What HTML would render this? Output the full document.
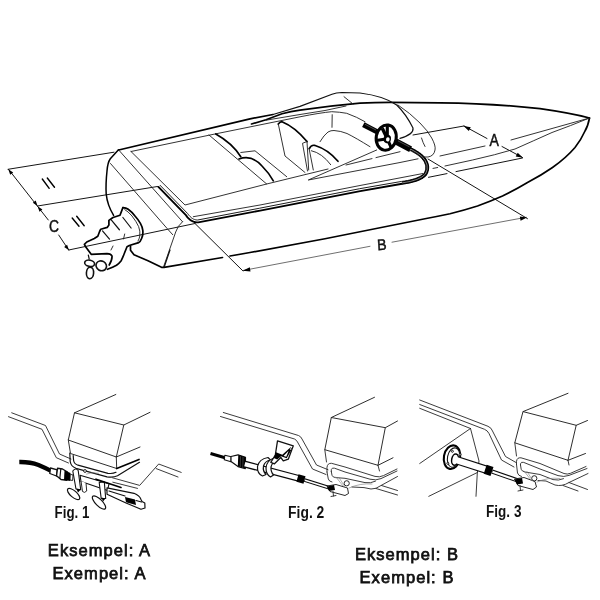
<!DOCTYPE html>
<html>
<head>
<meta charset="utf-8">
<title>Steering cable measurement</title>
<style>
html,body{margin:0;padding:0;background:#fff;}
body{width:600px;height:600px;overflow:hidden;position:relative;font-family:"Liberation Sans",sans-serif;}
svg{position:absolute;left:0;top:0;display:block;}
.t{fill:none;stroke:#1c1c1c;stroke-width:.9;stroke-linecap:round;stroke-linejoin:round;}
.b{fill:none;stroke:#222;stroke-width:.95;stroke-linecap:round;stroke-linejoin:round;}
.n{fill:none;stroke:#262626;stroke-width:.9;stroke-linecap:round;stroke-linejoin:round;}
.g{fill:none;stroke:#777;stroke-width:.6;stroke-linecap:round;stroke-linejoin:round;}
.m{fill:none;stroke:#111;stroke-width:1.2;stroke-linecap:round;stroke-linejoin:round;}
.k{fill:none;stroke:#000;stroke-width:1.7;stroke-linecap:round;stroke-linejoin:round;}
.f{fill:#000;stroke:none;}
.w{fill:#fff;stroke:#111;stroke-width:.9;stroke-linejoin:round;}
.lbl{font-family:"Liberation Sans",sans-serif;font-size:15.3px;fill:#111;stroke:#111;stroke-width:.45;}
.fig{font-family:"Liberation Sans",sans-serif;font-weight:bold;font-size:16px;fill:#111;}
.cap{will-change:transform;opacity:.999;position:absolute;text-align:center;font-size:16.5px;line-height:22.5px;color:#111;white-space:nowrap;letter-spacing:1.05px;-webkit-text-stroke:.75px #111;}
</style>
</head>
<body>
<svg width="600" height="600" viewBox="0 0 600 600" style="will-change:transform;opacity:.999">
<!-- ===================== MAIN BOAT ===================== -->
<g id="dims" class="t" style="stroke-width:1;stroke:#151515">
<path d="M8,169.3L114,152.2"/>
<path d="M8.5,169.3L48.3,220M58.7,235L68.7,250"/>
<path d="M37.5,206L157.5,186.5"/>
<path d="M68.7,250L195,223.5"/>
<path d="M195,223.5L243,271"/>
<path d="M243,270.5L370,246.3" style="stroke:#555;stroke-width:.85"/>
<path d="M392,242.2L526,217.3" style="stroke:#555;stroke-width:.85"/>
<path d="M428,159L527.5,218.7"/>
<path d="M413,135L464,126"/>
<path d="M464,126L487,138.5"/>
<path d="M502,146.5L522.5,157.5"/>
<path d="M522.5,158L456,171.6M447,173.6L428.5,177.3"/>
</g>
<g id="boat">
<!-- port gunwale + bow top -->
<path class="k" d="M118.7,150L250,118.8L273,114.5"/>
<path class="k" d="M251.5,124L266,119.8L282,113.8Q291,111.5 300,110.2Q330,105.8 360,103.2Q375,102.3 390,102.3L440,102.8Q495,103.5 540,108.7Q570,113 589.5,118"/>
<path class="t" d="M266,120.2L300,114.5L325,110.5L346,106"/>
<!-- bow lower / chine -->
<path class="k" d="M589.5,118Q588,126 585,131Q581,140 575,147.5Q566,158 552.5,167.5Q541,175.5 527.5,182.5Q515,190 502.5,196Q490,201.5 477.5,206Q465,210 450,213.75Q437,216.5 425,218.75L400,223.75L325,238.75L250,252.5L230,256"/>
<path class="k" d="M222.5,257.5L164,267.3L161.5,267.3L148,260.7L134,254.8L130.5,250.2L130.5,246.1"/>
<!-- stern corner -->
<path class="k" style="stroke-width:1.5" d="M118.5,149.7L110.3,158.7Q107.6,162.5 107,171Q105.6,184 106.2,194Q107.3,205 113.6,215.4"/>
<path class="t" d="M118.7,150L182.5,221.7"/>
<path class="t" d="M182.5,221.7Q177.5,226 175.7,232L163.5,267"/>
<!-- hatch -->
<path class="t" d="M131,151.5L210,135L300,116.8Q320,112.8 331.7,111.7Q340,112 346.7,113.3Q357,117 365,121.7"/>
<path class="t" d="M131,151.5L185,205L266.7,184L328,169"/>
<path class="t" d="M209,135L266.7,184"/>

<!-- starboard gunwale thin line + cable -->
<path class="t" d="M193.3,216.7L260,205L360,185.5L423,173.5"/>
<path d="M159,186.3L186.5,214.5Q191.5,221.8 198,221.5L260,209.7L360,190.2L402,182.9Q420,180.5 425.5,174Q430.5,165 421.7,156.2Q417,152.3 411,149.3" fill="none" stroke="#fff" stroke-width="3.4" stroke-linejoin="round"/>
<path id="cab1" class="k" style="stroke-width:1.9" d="M158.4,186.9L185.9,215.1L186.6,216.2L187.5,217.3L188.5,218.3L189.4,219.2L190.4,220.0L191.4,220.7L192.4,221.2L193.5,221.7L194.6,222.0L195.7,222.3L196.9,222.4L198.2,222.4L260.2,210.6L360.2,191.1L402.2,183.8L405.1,183.4L407.8,182.9L410.4,182.3L412.8,181.7L415.1,181.0L417.2,180.3L419.1,179.5L420.9,178.7L422.5,177.8L423.9,176.8L425.1,175.7L426.2,174.5L427.1,172.9L427.6,171.3L428.0,169.7L428.2,168.1L428.2,166.5L427.9,164.9L427.5,163.3L426.8,161.7L426.0,160.1L425.0,158.6L423.8,157.1L422.3,155.6L421.5,154.9L420.6,154.2L419.8,153.6L418.9,153.0L418.1,152.4L417.2,151.8L416.2,151.2L415.3,150.6L414.4,150.1L413.4,149.5L412.4,149.0L411.4,148.5"/>
<path id="cab2" class="t" style="stroke-width:1" d="M160.1,185.3L187.6,213.5L188.5,214.7L189.3,215.7L190.2,216.6L191.0,217.4L191.8,218.1L192.7,218.6L193.5,219.1L194.4,219.4L195.2,219.7L196.1,219.9L197.0,220.0L197.7,220.0L259.7,208.2L359.7,188.7L401.7,181.4L404.7,181.0L407.4,180.5L409.9,180.0L412.2,179.4L414.4,178.8L416.3,178.1L418.1,177.3L419.7,176.6L421.2,175.7L422.4,174.9L423.5,174.0L424.3,173.2L424.9,171.9L425.3,170.6L425.7,169.3L425.8,168.0L425.8,166.7L425.6,165.4L425.2,164.1L424.7,162.7L424.0,161.4L423.0,160.0L421.9,158.7L420.7,157.3L420.0,156.7L419.2,156.1L418.4,155.5L417.6,154.9L416.7,154.4L415.9,153.8L415.0,153.2L414.1,152.7L413.2,152.2L412.2,151.6L411.3,151.1L410.3,150.6"/>
<path d="M402,182.9Q420,180.5 425.5,174Q430.5,165 421.7,156.2Q417,152.3 411,149.3" fill="none" stroke="#000" stroke-width="2.9"/>
<path d="M402,182.9Q420,180.5 425.5,174Q430.5,165 421.7,156.2Q417,152.3 411,149.3" fill="none" stroke="#fff" stroke-width=".5"/>
<!-- windshield -->
<path class="m" d="M273,114.5L300,106.4L332,94.3Q336,92.7 342,92.5L360,93Q384,96 396.7,105Q406,114 413,128Q414,134.5 400,138.3"/>
<path class="t" d="M344,96.7L353,104"/>
<path class="t" d="M398,105Q410,113 420,123Q428,131 431.7,138Q436,146 435,150Q434,156 428,157L423,157"/>
<path class="t" d="M421.5,138Q423,143 425,146.5"/>
<!-- stbd wedge -->
<path class="t" d="M376.7,150L308.3,180L400,162.5L418,158.8"/>
<path class="t" d="M346,165L372,158.6M376,157.6L400,151.7"/>
<!-- bow deck lines -->
<path class="t" d="M589.5,118L511,140"/>
<path class="t" d="M485,146L440,156"/>
<path class="t" d="M589.5,118Q570,126 552,132.5Q533,141 515,149Q495,155 472.5,160L445,166"/>
<path class="t" d="M433,168.4L437.7,167.5"/>
<!-- seats -->
<path class="k" d="M215.8,134Q232,143 240.8,156.7"/>
<path class="t" d="M240.8,152.5L255,150.8L286.7,176.7"/>
<path class="k" d="M239,159Q252,154.5 262,166Q269,173 273.3,180.8"/>
<path class="k" d="M278.3,124Q280,121.8 282,121.7Q295,127 307,141.5"/>
<path class="t" d="M278.3,124L285,156L305,172.5"/>
<path class="t" d="M307,141.5L308.7,170M307,141.5L302.5,143.3L307.5,171"/>
<path class="k" d="M309.3,148.7Q311,144.8 314.5,145.3Q328,149.5 338,161.3"/>
<path class="t" d="M311.3,150.7Q322,153 330.7,164.7"/>
<path class="t" d="M309,148.3L313.3,170"/>
<path class="t" d="M332.2,114.7L332,127.3"/>
<path class="t" d="M320,141.7Q324,135 328,132Q331,130.3 334,130.5Q341,131 347,133.5Q356,138 370,146.7"/>
<!-- steering wheel -->
<path d="M363.3,124.6L377.5,132" stroke="#000" stroke-width="5.2" fill="none"/>
<path d="M365,124.3L376,130" stroke="#aaa" stroke-width=".45" fill="none"/>
<path d="M395.5,141.3L410.6,149.2" stroke="#000" stroke-width="6.2" fill="none"/>
<path d="M398,140.9L409.5,146.9" stroke="#aaa" stroke-width=".45" fill="none"/>
<g transform="translate(386.2,137.6) rotate(10)">
<ellipse cx="0" cy="0" rx="10" ry="12.7" fill="#fff" stroke="#000" stroke-width="3"/>
<path d="M1.3,1L-1,-12M1.3,1L-9.3,4.5M1.3,1L7,9.5" stroke="#000" stroke-width="3.1" fill="none"/>
<path d="M1.3,1L-5.5,-8.5" stroke="#000" stroke-width="3.4" fill="none"/>
<ellipse cx="1.3" cy="1.2" rx="3.7" ry="4.3" fill="#000"/>
<ellipse cx="1.9" cy="1.5" rx="1.8" ry="2.2" fill="#fff"/>
</g>
<!-- outdrive -->
<path class="k" d="M122.9,207.6Q126,207.8 128.2,209.3Q132,212 135.2,216.3Q138.5,220 140.4,223.3Q142.5,227 142.8,230.3Q143.3,235 141.6,238.5Q140.5,241.5 138.7,242.6L129.3,245.5L127,246.7L124.7,252.5Q123,257 121.2,260.7Q119,263.5 116.5,265.3Q113,267.3 107.5,269.3"/>
<path class="t" d="M124.8,209.6Q128,211.3 132,216Q136.3,221.5 138.6,226.5Q140.4,231 139.8,236Q139.3,239 138,241"/>
<path class="k" d="M122.9,207.6L120,215.2L113,217.5L108.9,220.4L108.9,225.1L107.2,227.4L100.75,229.2L99.6,231.5L97.8,236.2L94.3,238.5L86.75,242L84.4,244.3L85.6,246.7L91.2,254.3L107,253.6Q111,253.8 112,256Q112.3,259.5 109.2,265"/>
<path class="m" d="M111.25,219.8L119.4,229.75M102.5,230.9L109.5,239.1M122.9,217.5L131.1,228"/>
<path class="t" d="M124.7,234L123.5,239M113,246L111,250"/>
<path class="m" d="M88.3,255L89.2,259"/>
<ellipse cx="101.25" cy="265.8" rx="5.4" ry="4.8" class="w" style="stroke-width:1.6" transform="rotate(30 101.25 265.8)"/>
<ellipse cx="89.6" cy="263.3" rx="5" ry="3.1" class="w" style="stroke-width:1.6" transform="rotate(12 89.6 263.3)"/>
<ellipse cx="90" cy="272.9" rx="3.6" ry="5.8" class="w" style="stroke-width:1.6" transform="rotate(3 90 272.9)"/>
<path class="m" d="M170,250L164.3,266.7"/>
<!-- transom faint lines -->
<path class="t" d="M110.5,163.5L167.3,228.7L172.7,234.7"/>
</g>
<!-- arrows -->
<g class="f">
<path d="M8.3,169.2L10.2,174.7L13.2,172.4Z"/>
<path d="M69,250.3L64.1,247.1L67.1,244.8Z"/>
<path d="M37.6,206L32.8,202.8L35.7,200.5Z M37.6,206.2L39.5,211.7L42.4,209.4Z"/>
<path d="M242.6,270.7L249.8,267.2L250.5,271.4Z"/>
<path d="M527,217.4L519.8,216.5L520.6,220.7Z"/>
<path d="M463.6,126L470.8,127.2L468.8,131Z"/>
<path d="M522.9,157.8L515.7,156.6L517.7,152.8Z"/>
</g>
<!-- tick marks II -->
<g class="k" style="stroke-width:1.4">
<path d="M42.3,179L49.2,188.3M47.3,178L54.5,187.2"/>
<path d="M72.2,218L79,226.3M76.7,216.3L84.2,225.7"/>
</g>
<text class="lbl" style="font-size:16.3px" x="49" y="231.9" textLength="10" lengthAdjust="spacingAndGlyphs">C</text>
<text class="lbl" style="font-size:15.4px" x="377.2" y="249.9" textLength="9.4" lengthAdjust="spacingAndGlyphs" transform="rotate(-4 382 244)">B</text>
<text class="lbl" style="font-size:15.6px" x="489.5" y="146.3" textLength="9.4" lengthAdjust="spacingAndGlyphs">A</text>

<!-- ===================== FIG 1 ===================== -->
<g id="fig1">
<path class="n" d="M11.7,412.8L45.5,425.5L59.5,454L71,459"/>
<path class="n" d="M8.5,416.7L42,429.3L56.3,457.7L68.5,463"/>
<!-- motor box -->
<path class="b" d="M115.8,394.5L74.5,412.8L123.8,425L150,412.3"/>
<path class="b" d="M74.5,412.8L68.3,440L116.3,457L123.8,425"/>
<path class="b" d="M116.3,457L140,447"/>
<path class="b" d="M68.3,440L70.5,453.5L116.7,468.5L116.3,457"/>
<path class="k" d="M116.7,468.5L139,459.5"/>
<!-- tilt tube -->
<path class="m" d="M69.8,453L70.2,461.5Q71,466.5 76,468.3L107,476.8Q113,478 117.5,475.8L139.5,462.3"/>
<path class="m" d="M73.2,455.5L73.6,460.5Q74.2,464 78,465.2L108,473.3Q112.5,474 116,472.3"/>
<!-- right transom -->
<path class="n" d="M112.5,477.8L139.7,485.4L158.7,464L181.2,472.4"/>
<path class="n" d="M112.8,482.2L137.5,488.4M156.2,468.6L178,477"/>
<!-- cable -->
<path d="M19.3,462Q30,461.8 38.5,465Q45,467.8 51,470.8" fill="none" stroke="#000" stroke-width="4.3"/>
<path class="w" style="stroke-width:1.3" d="M50.5,468L57.3,469.8L56.5,476L49.8,473.5Z"/>
<path class="w" style="stroke-width:1.4" d="M57.5,468.3L62.5,469L67.5,472L66.8,480.3L61,479.5L56.5,475.8Z"/>
<path class="m" d="M60.8,469L59.8,478.5"/>
<path class="f" d="M64.5,470.5L70.5,473L70.2,481L64,480Z"/>
<path class="w" d="M70.3,474.3L73,475L72.6,480.5L70,480Z"/>
<!-- steering tube -->
<path class="w" style="stroke-width:1.1" d="M80,475.2L109,483.8L107.5,490.5L81,481.5Z"/>
<path class="w" d="M81,481L82.5,491.5Q84.5,493.5 86.7,491L86,483"/>
<!-- clamp brackets -->
<path class="w" style="stroke-width:1.1" d="M72.8,471Q75.5,467.2 78.2,470.5L80.7,489.7L76,489Z"/>
<path class="w" style="stroke-width:1.1" d="M99.2,482.5L104.3,482L105.7,498.5L101.2,498.5Z"/>
<ellipse cx="73.6" cy="494" rx="7.7" ry="3.2" class="w" style="stroke-width:1.2" transform="rotate(41 73.6 494)"/>
<ellipse cx="99" cy="502.5" rx="8.8" ry="3.3" class="w" style="stroke-width:1.2" transform="rotate(45 99 502.5)"/>
<path class="f" d="M76.3,488.5L80.5,489.7L78,492.5ZM101.5,497.5L105.5,498.5L103,501.5Z"/>
<!-- link arm -->
<path class="w" style="stroke-width:1.2" d="M107,487.8L134,493.3Q139.5,495.5 141,499.5L142,501.5L144.8,503L145,508L141,509.3L126,503L107,494.3Z"/>
<path class="f" d="M125,497L135,499.5L136,505L126,502.3Z"/>
<path class="m" d="M109,491L125,496M136,500.5L141.5,502"/>
<path class="k" d="M96,479.2L121,487.5"/>
<circle cx="85" cy="471" r="1.4" class="w"/>
<path class="g" d="M86.5,474Q92,471.5 98.5,473.3"/>
<text class="fig" x="54.6" y="517.8" textLength="34.8" lengthAdjust="spacingAndGlyphs">Fig. 1</text>
</g>
<!-- ===================== FIG 2 ===================== -->
<g id="fig2">
<path class="n" d="M223.3,412.5L298.5,435.5Q301,436.5 302,439L316.5,465L328,469.7"/>
<path class="n" d="M220.5,416.5L294.5,439Q296.5,440 297.5,442L312.5,469L326,474.5"/>
<!-- motor -->
<path class="b" d="M374.5,397.3L331.3,417.5L385.3,427.7L397.5,421"/>
<path class="b" d="M331.3,417.5L324.8,449.7L378,465.3L385.3,427.7"/>
<path class="b" d="M378,465.3L393,457.8"/>
<path class="n" d="M324.8,449.7L326.5,462M378,465.3L379.5,471"/>
<!-- tilt tube -->
<path class="n" d="M327,472L327,467.3Q327.5,463 331.5,463.3L345,467L375,476.4Q379.5,477.6 383.5,475.6L397,469"/>
<path class="n" d="M331.3,471.5L331.3,469.6Q332,467.4 334.5,468.2L345,472L370,479.2Q376,480.8 381,478.6L397,471"/>
<path class="n" d="M331.3,471.5L332,475.3Q332.8,477.3 335.5,477.6L345,478.3L365,482.6Q370.5,483.6 375.5,481.2"/>
<path class="n" d="M327,472L328.3,479Q329,481.5 332,482M352,487L364,487.6L371,489Q376,489.3 381,485.5L397.5,476.5"/>
<path class="n" d="M376,488.5L397.5,495M381.5,485.5L397.5,490.5"/>
<!-- cable -->
<path d="M210.5,453.5L225,457.7" fill="none" stroke="#000" stroke-width="3.1"/>
<path class="w" style="stroke-width:1.1" d="M224.8,455.3L231.3,456.8L231,461.8L224.3,459.8Z"/>
<path class="w" style="stroke-width:1.2" d="M231,456.5L238,454.8L245.5,457.3L245.3,468.6L238,466.6L231,461.6Z"/>
<path class="f" d="M238.3,454.8L245.5,457.3L245.3,468.6L237.8,466.6Z"/>
<path d="M240.5,456.3L240.2,467M243,457L242.8,467.6" stroke="#777" stroke-width=".5" fill="none"/>
<path d="M244,463.9L299,478.5" fill="none" stroke="#0a0a0a" stroke-width="6.9"/>
<path d="M244.8,464.1L298,478.2" fill="none" stroke="#fff" stroke-width="4.3"/>
<path d="M297.5,478.1L304.5,480" fill="none" stroke="#000" stroke-width="7.8"/>
<path d="M304.5,480L330,488" fill="none" stroke="#0a0a0a" stroke-width="3.8"/>
<path d="M305,480.2L329,487.7" fill="none" stroke="#fff" stroke-width="1.6"/>
<!-- clamp -->
<path class="w" style="stroke-width:1.2" d="M268,457.5Q259,459 257.5,466.5Q257,473.5 262.5,476L266,474.5Q262.5,471 263.5,466Q265,461 270.5,460Z"/>
<path class="w" d="M274,458Q266.5,460.5 266,468Q266,474.5 270.5,477L273.5,475Q270.5,471.5 271,467Q272,462.5 276.5,460.5Z" style="stroke-width:1.2"/>
<!-- bracket -->
<path class="w" style="stroke-width:1.3" d="M277.5,440.8L293.3,445.8L291.7,450L288.3,459.2L283.3,460.8L280.8,457.5L274.5,463.8L270.8,462.3L275.3,455Z"/>
<path d="M276,452.3L282.3,454.8L290.6,447.3L292,448.8L286.7,458.3L281,456.3L277.2,459.5L273.8,458Z" fill="#000"/>
<path d="M283.5,456L288.6,450.8L286.3,456.8Z" fill="#fff"/>
<circle cx="290.6" cy="449" r=".8" fill="#fff"/>
<!-- end fitting -->
<path class="w" d="M327,486L336,484.5L347.5,488L348.5,493.5L345,495.5L330,491.5Z"/>
<path class="f" d="M327,486.5L334,485L335,490L329,491Z"/>
<circle cx="346.7" cy="483.3" r="2.6" class="w"/>
<path class="n" d="M333,491.5L333.5,496M331,496.5L336,495.5"/>
<path class="g" d="M336,477L343,486M339,477.5L345,487M349,488Q360,483 372,484"/>
<text class="fig" x="288.1" y="517.8" textLength="36.2" lengthAdjust="spacingAndGlyphs">Fig. 2</text>
</g>
<!-- ===================== FIG 3 ===================== -->
<g id="fig3">
<path class="n" d="M419.7,400L488,426.3Q491.5,427.8 492.5,431L505.5,456.5L516,462.5"/>
<path class="n" d="M419.7,404.5L484.5,429.3Q487.5,430.5 489,433.5L501.5,460L514,467"/>
<path class="n" d="M419.7,408.3L470.5,428.5"/>
<path class="n" d="M470.5,428.5L419.7,463.5"/>
<path class="n" d="M470.5,428.5L479,461L477.3,473L476,496.3"/>
<path class="n" d="M477.4,472.5L428.8,496.3"/>
<!-- motor -->
<path class="b" d="M568,393.3L523,411.6L576.2,425.3L587.5,420.5"/>
<path class="b" d="M523,411.6L514.8,442.8L568,460.3L576.2,425.3"/>
<path class="b" d="M568,460.3L585.5,453.5"/>
<path class="n" d="M514.8,442.8L516.5,456M568,460.3L569,465"/>
<!-- tilt tube -->
<path class="n" d="M516.5,464.5L516.5,461.3Q517,457.3 521,457.8L540,463.5L564,473.5Q567.3,474.7 570.5,473.3L586,466.5"/>
<path class="n" d="M520.5,465L520.5,463.8Q521,461.6 523.7,462.4L540,469L558,475.6Q564,477.4 569,475.4L587,468.5"/>
<path class="n" d="M520.5,465L521.2,469.3Q522,471.5 525,472L540,474.5L553,479.6Q558.5,481 563.5,478.7"/>
<path class="n" d="M516.5,464.5L517.5,473Q518.3,475.8 521.5,476.5M538,480.5L546,481L555,485Q562,486.8 569,482.5L588,473.5"/>
<path class="n" d="M563,485.5L578,491M569,482.5L587.5,489.5"/>
<!-- flange -->
<ellipse cx="452" cy="457.2" rx="8.1" ry="11.9" fill="#fff" stroke="#000" stroke-width="2.1" transform="rotate(11 452 457.2)"/>
<ellipse cx="453.6" cy="457.6" rx="6.1" ry="9.8" fill="#fff" stroke="#111" stroke-width="1.1" transform="rotate(11 453.6 457.6)"/>
<circle cx="452.4" cy="451.3" r="1" class="w"/><circle cx="447.8" cy="463.3" r="1" class="w"/><circle cx="460" cy="454.5" r="1" class="w"/>
<ellipse cx="455" cy="459.6" rx="3.3" ry="5.7" fill="#fff" stroke="#000" stroke-width="1.5" transform="rotate(11 455 459.6)"/>
<!-- tube -->
<path d="M457.7,460.5L486.5,469.7" fill="none" stroke="#0a0a0a" stroke-width="8.5"/>
<path d="M456,460L486,469.6" fill="none" stroke="#fff" stroke-width="6.1"/>
<path d="M485.2,469.3L492,471.5" fill="none" stroke="#000" stroke-width="9.6"/>
<path d="M492,471.5L518,480.5" fill="none" stroke="#0a0a0a" stroke-width="4.2"/>
<path d="M492.5,471.7L517,480.2" fill="none" stroke="#fff" stroke-width="2.1"/>
<!-- end fitting -->
<path class="w" d="M514.5,479L524,477.5L535,481.5L536.5,487L533,489.5L518,485.5Z"/>
<path class="f" d="M514.5,479.5L522,478L523,483.5L517,484.5Z"/>
<circle cx="534.3" cy="478.3" r="2.6" class="w"/>
<path class="n" d="M520,485.5L520.5,490.5M518,491L523,490"/>
<path class="g" d="M524,471L531,480M527,471.5L533,481M537,482Q548,477 560,478.5"/>
<text class="fig" x="486.1" y="517.3" textLength="35.3" lengthAdjust="spacingAndGlyphs">Fig. 3</text>
</g>
</svg>

<div class="cap" style="left:0;width:199px;top:539px;">Eksempel: A<br>Exempel: A</div>
<div class="cap" style="left:307px;width:200px;top:542.5px;">Eksempel: B<br>Exempel: B</div>
</body>
</html>
